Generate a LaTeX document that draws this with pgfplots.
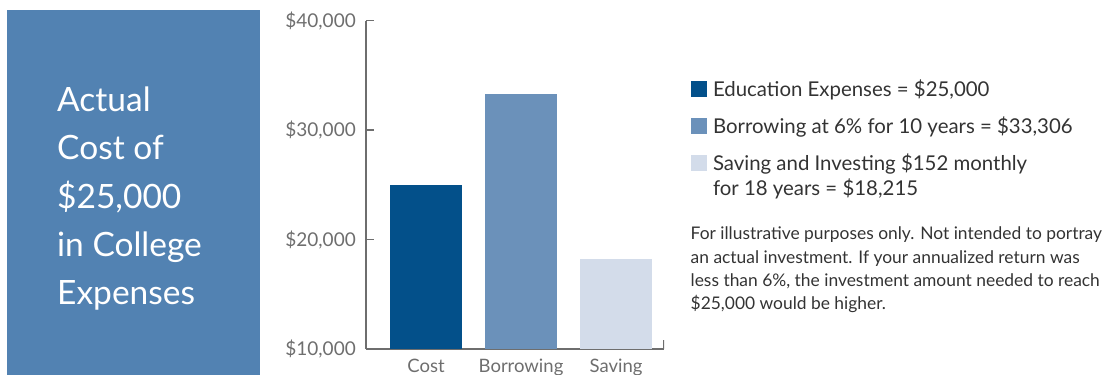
\documentclass[border=0pt]{standalone}
\usepackage{fontspec}
\setmainfont{Lato}
\usepackage{pgfplots}
\pgfplotsset{compat=1.18}
\definecolor{costc}{HTML}{03508A}
\definecolor{borc}{HTML}{6B91BA}
\definecolor{savc}{HTML}{D3DCEA}
\definecolor{boxc}{HTML}{5282B2}
\definecolor{axisc}{HTML}{6E6E6E}
\definecolor{textc}{HTML}{333333}
\begin{document}
\begin{tikzpicture}[x=1pt,y=1pt]
\useasboundingbox (0,0) rectangle (1112,375);
\fill[boxc] (7,0) rectangle (260,365);
\node[anchor=base west, inner sep=0pt, text=white, font=\fontsize{33.5}{48.3}\selectfont] at (57,263.3)
 {\begin{tabular}[t]{@{}l@{}}Actual\\Cost of\\\$25,000\\in College\\Expenses\end{tabular}};
\begin{axis}[
  at={(366pt,26pt)}, anchor=south west,
  scale only axis, width=298pt, height=328.3pt,
  xmin=-0.6316, xmax=2.505, ymin=10000, ymax=40000,
  scaled y ticks=false,
  axis x line=bottom, axis y line=left,
  axis line style={-, axisc, line width=1.6pt},
  xtick={0,1,2}, xticklabels={Cost,Borrowing,Saving},
  xtick style={draw=none},
  ytick={10000,20000,30000,40000},
  yticklabels={{\$10,000},{\$20,000},{\$30,000},{\$40,000}},
  ytick style={axisc, line width=1.6pt},
  ytick align=inside, major tick length=8pt,
  yticklabel style={anchor=east, inner sep=0pt, xshift=-10pt, text=axisc, font=\fontsize{19}{21}\selectfont},
  xticklabel style={anchor=base, inner sep=0pt, yshift=-19.5pt, text=axisc, font=\fontsize{18.5}{21}\selectfont},
  legend style={draw=none, fill=none, inner sep=0pt, outer sep=0pt,
    at={(1.0906,0.8245)}, anchor=north west,
    row sep=15.7pt, column sep=4pt,
    cells={anchor=base west, inner sep=0pt, text height=16pt, text depth=5pt},
    font=\fontsize{20.4}{25}\selectfont, text=textc},
]
\addplot[ybar, bar width=72pt, bar shift=0pt, draw=none, fill=costc,
  legend image code/.code={\fill[costc] (0pt,-0.5pt) rectangle (16pt,15.5pt);}]
  coordinates {(0,25000)};
\addlegendentry{Education Expenses = \$25,000}
\addplot[ybar, bar width=72pt, bar shift=0pt, draw=none, fill=borc,
  legend image code/.code={\fill[borc] (0pt,-0.5pt) rectangle (16pt,15.5pt);}]
  coordinates {(1,33306)};
\addlegendentry{Borrowing at 6\% for 10 years = \$33,306}
\addplot[ybar, bar width=72pt, bar shift=0pt, draw=none, fill=savc,
  legend image code/.code={\fill[savc] (0pt,-0.5pt) rectangle (16pt,15.5pt);}]
  coordinates {(2,18215)};
\addlegendentry{\begin{tabular}[t]{@{}l@{}}Saving and Investing \$152 monthly\\for 18 years = \$18,215\end{tabular}}
\draw[axisc, line width=1.6pt] (axis cs:2.505,10000) -- ++(0pt,9pt);
\end{axis}
\node[anchor=base west, inner sep=0pt, text=textc, font=\fontsize{17.4}{23.3}\selectfont] at (690.5,135)
 {\begin{tabular}[t]{@{}l@{}}For illustrative purposes only. Not intended to portray\\an actual investment. If your annualized return was\\less than 6\%, the investment amount needed to reach\\\$25,000 would be higher.\end{tabular}};
\end{tikzpicture}
\end{document}
